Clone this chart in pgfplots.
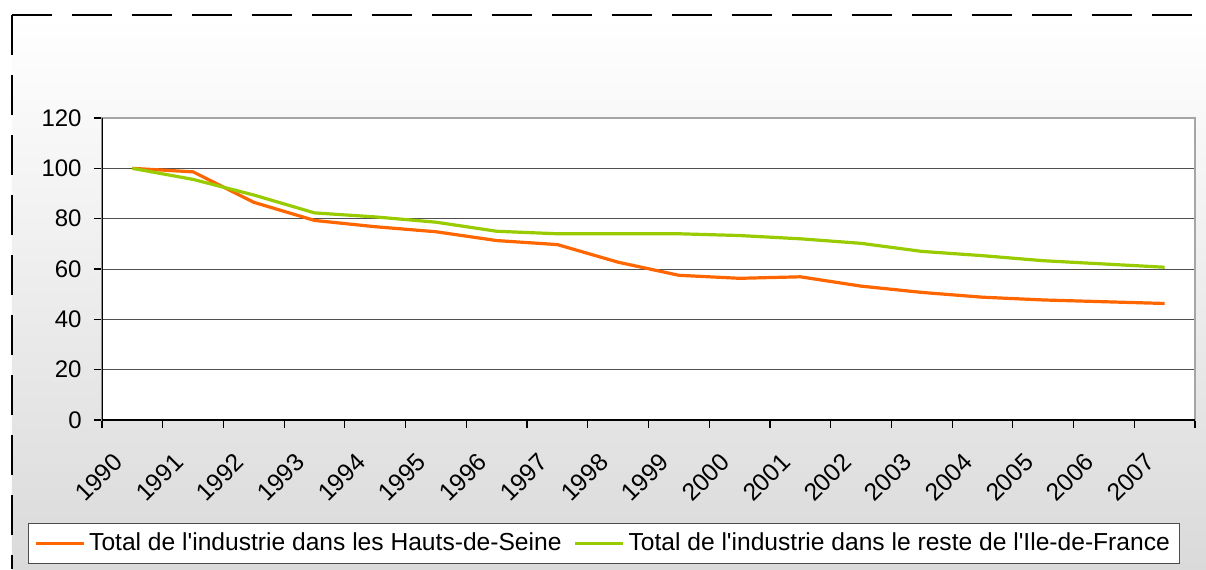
\documentclass[border=0pt]{standalone}
\usepackage{pgfplots}
\pgfplotsset{compat=1.18}
\usepackage{fontspec}
\setmainfont{Liberation Sans}
\definecolor{orangeS}{RGB}{255,102,0}
\definecolor{greenS}{RGB}{153,204,0}
\definecolor{bgbot}{RGB}{218,218,218}
\definecolor{gridc}{RGB}{80,80,80}
\begin{document}
\begin{tikzpicture}
\useasboundingbox (-51pt,-74.5pt) rectangle (552pt,210pt);
\fill[white] (-51pt,-74.5pt) rectangle (552pt,210pt);
\shade[top color=white, bottom color=bgbot] (-45pt,-74.5pt) rectangle (552pt,202.5pt);
\draw[black, line width=0.75pt, dash pattern=on 20pt off 10pt] (-45pt,202.5pt) -- (552pt,202.5pt);
\draw[black, line width=0.75pt, dash pattern=on 20pt off 10pt] (-45pt,202.5pt) -- (-45pt,-74.5pt);
\begin{axis}[
  at={(0,0)}, anchor=south west,
  scale only axis,
  width=546.5pt, height=151pt,
  xmin=-0.5, xmax=17.5,
  ymin=0, ymax=120,
  ytick={0,20,...,120},
  xtick={0,...,17},
  xticklabels={1990,1991,1992,1993,1994,1995,1996,1997,1998,1999,2000,2001,2002,2003,2004,2005,2006,2007},
  minor xtick={-0.5,0.5,...,17.5},
  xtick pos=bottom, ytick pos=left,
  major x tick style={draw=none},
  minor x tick style={black, line width=0.6pt},
  y tick style={black, line width=0.6pt},
  tick align=outside,
  major tick length=4pt,
  minor tick length=4pt,
  ymajorgrids,
  grid style={gridc, line width=0.5pt},
  axis line style={gray!70, line width=0.6pt},
  axis background/.style={fill=white},
  font=\fontsize{12}{14}\selectfont,
  /pgf/number format/assume math mode=true,
  yticklabel style={anchor=east, inner sep=0pt, xshift=-6pt},
  xticklabel style={inner sep=0pt, xshift=-7pt, yshift=-15pt, rotate=45, anchor=east,
    font=\fontsize{12.3}{14}\selectfont},
  legend style={at={(0.4593,-0.409)}, anchor=center, draw=gray!60!black, line width=0.5pt,
    fill=white, font=\fontsize{12.3}{14}\selectfont, inner xsep=3pt, inner ysep=3pt,
    /tikz/every even column/.append style={column sep=4pt}},
  legend columns=2,
  legend cell align=left,
  legend image code/.code={\draw[#1, line width=1.5pt] (0pt,0pt) -- (24pt,0pt);},
]
\addplot[orangeS, line width=1.6pt] coordinates {
(0,100) (1,98.6) (2,86.5) (3,79.3) (4,76.8) (5,74.8) (6,71.3) (7,69.7) (8,62.7)
(9,57.5) (10,56.3) (11,56.9) (12,53.2) (13,50.7) (14,48.8) (15,47.7) (16,47.0) (17,46.3)};
\addlegendentry{Total de l\textquotesingle industrie dans les Hauts-de-Seine}
\addplot[greenS, line width=1.6pt] coordinates {
(0,100) (1,95.6) (2,89.4) (3,82.3) (4,80.7) (5,78.6) (6,75.0) (7,74.0) (8,74.0)
(9,74.0) (10,73.3) (11,72.0) (12,70.2) (13,67.0) (14,65.3) (15,63.3) (16,62.0) (17,60.7)};
\addlegendentry{Total de l\textquotesingle industrie dans le reste de l\textquotesingle Ile-de-France}
\draw[black, line width=0.75pt] (rel axis cs:0,0) -- (rel axis cs:0,1);
\draw[black, line width=0.75pt] (rel axis cs:0,0) -- (rel axis cs:1,0);
\end{axis}
\end{tikzpicture}
\end{document}
